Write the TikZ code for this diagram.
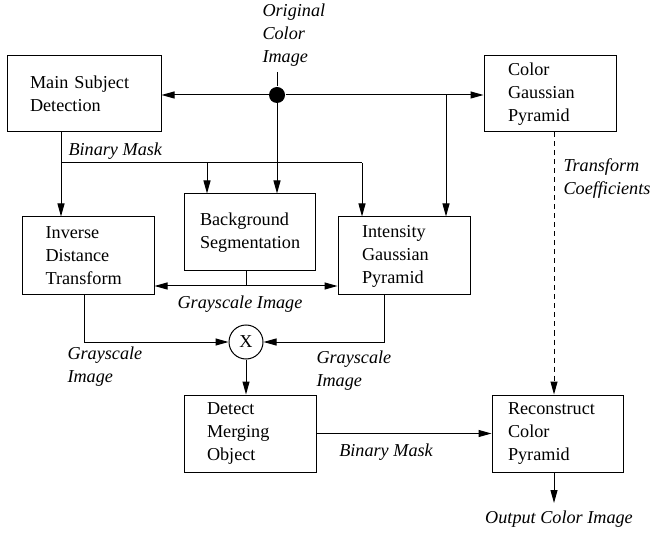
\documentclass[tikz,border=0pt]{standalone}
\usepackage{fontspec}
\setmainfont{Liberation Serif}
\usetikzlibrary{arrows.meta}
\begin{document}
\begin{tikzpicture}[x=0.5pt,y=-0.5pt,>={Triangle[length=6.5pt,width=3.5pt]},line width=0.5pt,
  blk/.style n args={3}{draw,rectangle,align=left,inner sep=0pt,text width=#1,minimum height=#2,
    execute at begin node={\leftskip=#3},font=\fontsize{9.1}{11.5}\selectfont},
  lbl/.style={inner sep=0pt,align=left,font=\fontsize{9.1}{11.5}\selectfont\itshape}]
  \useasboundingbox (0,0) rectangle (651,533);
  \node[blk={77pt}{38pt}{11.5pt}](msd) at (84,94){Main Subject\\Detection};
  \node[blk={66pt}{38pt}{12pt}](cgp) at (550,94){Color\\Gaussian\\Pyramid};
  \node[blk={66pt}{39pt}{11.8pt}](idt) at (88,256){Inverse\\Distance\\Transform};
  \node[blk={65.5pt}{38.5pt}{8pt}](bgs) at (249.5,232.5){Background\\Segmentation};
  \node[blk={66pt}{39pt}{12pt}](igp) at (404,256){Intensity\\Gaussian\\Pyramid};
  \node[blk={66pt}{38.5pt}{11.5pt}](dmo) at (250,433.5){Detect\\Merging\\Object};
  \node[blk={65.5pt}{38.5pt}{8pt}](rcp) at (557.5,433.5){Reconstruct\\Color\\Pyramid};
  \node[circle,draw,minimum size=17pt,inner sep=0pt,font=\fontsize{9.1}{11.5}\selectfont](mul) at (246,342){X};
  \node[circle,fill,minimum size=8pt,inner sep=0pt](dot) at (277,95){};
  \coordinate (src) at (277,72);
  \coordinate (br) at (446,95);
  \coordinate (bmL) at (61,163);
  \coordinate (bmM) at (207,163);
  \coordinate (bmR) at (362,163);
  \coordinate (gs) at (246,286);
  \coordinate (gl) at (84,342);
  \coordinate (gr) at (384,342);
  \coordinate (tc) at (554,0);
  \coordinate (out) at (554,503);
  \draw (src)--(dot);
  \draw[->] (dot)--(dot-|msd.east);
  \draw[->] (dot)--(dot-|cgp.west);
  \draw[->] (dot)--(dot|-bgs.north);
  \draw[->] (br)--(br|-igp.north);
  \draw (bmL|-msd.south)--(bmL)--(bmR);
  \draw[->] (bmL)--(bmL|-idt.north);
  \draw[->] (bmM)--(bmM|-bgs.north);
  \draw[->] (bmR)--(bmR|-igp.north);
  \draw (gs|-bgs.south)--(gs);
  \draw[->] (gs)--(gs-|idt.east);
  \draw[->] (gs)--(gs-|igp.west);
  \draw[->] (gl|-idt.south)--(gl)--(mul.west);
  \draw[->] (gr|-igp.south)--(gr)--(mul.east);
  \draw[->] (mul.south)--(mul.south|-dmo.north);
  \draw[->] (dmo.east|-rcp.west)--(rcp.west);
  \draw[->,dash pattern=on 2.5pt off 2pt] (tc|-cgp.south)--(tc|-rcp.north);
  \draw[->] (out|-rcp.south)--(out);
  \node[lbl,anchor=west](lorig) at (262,35){Original\\Color\\Image};
  \node[lbl,anchor=west](lbm1) at (68,151){Binary Mask};
  \node[lbl,anchor=west](ltc) at (563,179){Transform\\Coefficients};
  \node[lbl](lgs1) at (240,304){Grayscale Image};
  \node[lbl,anchor=west](lgs2) at (67,367){Grayscale\\Image};
  \node[lbl,anchor=west](lgs3) at (316,371){Grayscale\\Image};
  \node[lbl](lbm2) at (386,452){Binary Mask};
  \node[lbl](lout) at (559,519){Output Color Image};
\end{tikzpicture}
\end{document}
